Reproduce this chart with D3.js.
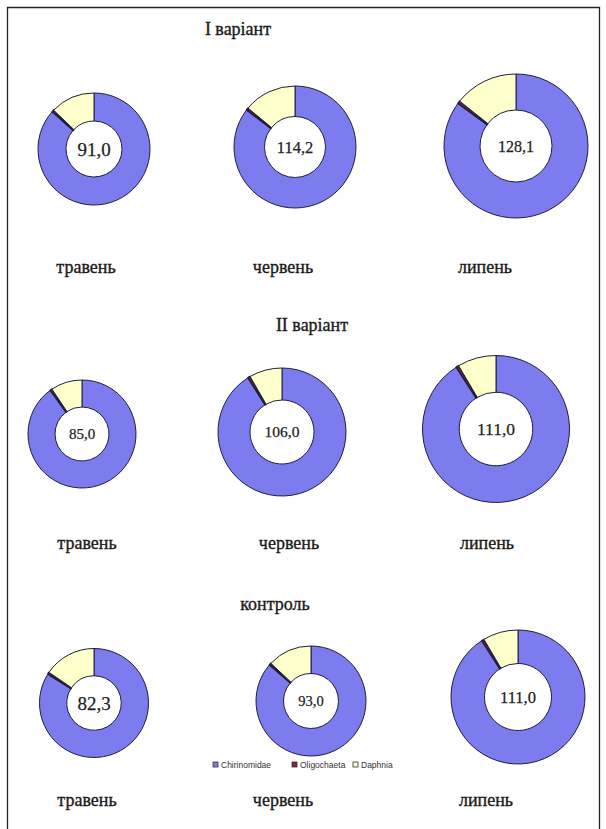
<!DOCTYPE html>
<html><head><meta charset="utf-8">
<script src="https://cdn.jsdelivr.net/npm/d3@7"></script>
<style>body{margin:0;background:#fff}svg{display:block}</style>
</head><body>
<svg id="c" width="606" height="829"></svg>
<script>
// ---- data ----
const groups = ["I варіант", "II варіант", "контроль"];
const months = ["травень", "червень", "липень"];
const species = ["Chirinomidae", "Oligochaeta", "Daphnia"];
const totals = [91.0, 114.2, 128.1, 85.0, 106.0, 111.0, 82.3, 93.0, 111.0];
const chirinomidae = [86.6, 85.4, 85.1, 90.0, 91.1, 90.9, 83.9, 86.4, 90.9];
const oligochaeta = [0.6, 0.6, 0.6, 0.6, 0.6, 0.6, 0.6, 0.6, 0.6];
const daphnia = [12.8, 14.0, 14.3, 9.4, 8.3, 8.5, 15.5, 13.0, 8.5];

// ---- layout ----
const cells = [
  {cx: 94, cy: 149, r: 56, fs: 19}, {cx: 295, cy: 147, r: 61, fs: 16.5}, {cx: 516, cy: 146, r: 72, fs: 16},
  {cx: 82, cy: 434, r: 54, fs: 15}, {cx: 282, cy: 432, r: 64, fs: 15.5}, {cx: 496, cy: 429, r: 73.5, fs: 17.5},
  {cx: 94, cy: 703, r: 54.5, fs: 19}, {cx: 311, cy: 701, r: 55, fs: 14.5}, {cx: 518, cy: 697, r: 67, fs: 16.5}
];
const groupTitles = [{x: 238, y: 35}, {x: 312, y: 331}, {x: 275, y: 610}];
const monthRows = [
  [{x: 86, y: 273}, {x: 283, y: 273}, {x: 485, y: 273}],
  [{x: 87, y: 549}, {x: 289, y: 549}, {x: 487, y: 549}],
  [{x: 87, y: 806}, {x: 283, y: 806}, {x: 486, y: 806}]
];
const color = d3.scaleOrdinal().domain(species).range(["#7c7cef", "#8a1f3a", "#ffffcc"]);

const svg = d3.select("#c");
const serif = "'Liberation Serif','Times New Roman',serif";

// frame
svg.append("path").attr("d", "M7.5,835 V7.5 H599.5 V835")
  .attr("fill", "none").attr("stroke", "#222").attr("stroke-width", 1.3);

const pie = d3.pie().sort(null).value(d => d.v);

cells.forEach((c, i) => {
  const data = [
    {k: species[0], v: chirinomidae[i]},
    {k: species[1], v: oligochaeta[i]},
    {k: species[2], v: daphnia[i]}
  ];
  const arc = d3.arc().innerRadius(c.r * 0.5).outerRadius(c.r);
  const g = svg.append("g").attr("transform", `translate(${c.cx},${c.cy})`);
  g.selectAll("path").data(pie(data)).join("path")
    .attr("d", arc)
    .attr("fill", d => color(d.data.k))
    .attr("stroke", "#1e1e3c")
    .attr("stroke-width", d => d.data.k === "Oligochaeta" ? 1.6 : 1)
    .attr("stroke-linejoin", "round");
  g.append("text").attr("text-anchor", "middle").attr("dy", "0.35em")
    .attr("font-family", serif).attr("font-size", c.fs).attr("fill", "#222")
    .attr("stroke", "#222").attr("stroke-width", 0.25)
    .text(d3.format(".1f")(totals[i]).replace(".", ","));
});

groups.forEach((t, gi) => {
  svg.append("text").attr("x", groupTitles[gi].x).attr("y", groupTitles[gi].y)
    .attr("text-anchor", "middle").attr("font-family", serif).attr("font-size", 18)
    .attr("fill", "#1a1a1a").attr("stroke", "#1a1a1a").attr("stroke-width", 0.35).text(t);
  months.forEach((m, mi) => {
    const p = monthRows[gi][mi];
    svg.append("text").attr("x", p.x).attr("y", p.y).attr("text-anchor", "middle")
      .attr("font-family", serif).attr("font-size", 18).attr("fill", "#1a1a1a")
      .attr("stroke", "#1a1a1a").attr("stroke-width", 0.35).text(m);
  });
});

// legend
const legendX = [213, 292, 353];
const lg = svg.append("g");
species.forEach((s, i) => {
  lg.append("rect").attr("x", legendX[i]).attr("y", 762).attr("width", 5).attr("height", 5)
    .attr("fill", color(s)).attr("stroke", "#333").attr("stroke-width", 0.8);
  lg.append("text").attr("x", legendX[i] + 8).attr("y", 767.5)
    .attr("font-family", "'Liberation Sans',Arial,sans-serif").attr("font-size", 8.5)
    .attr("fill", "#333").text(s);
});
</script>
</body></html>
